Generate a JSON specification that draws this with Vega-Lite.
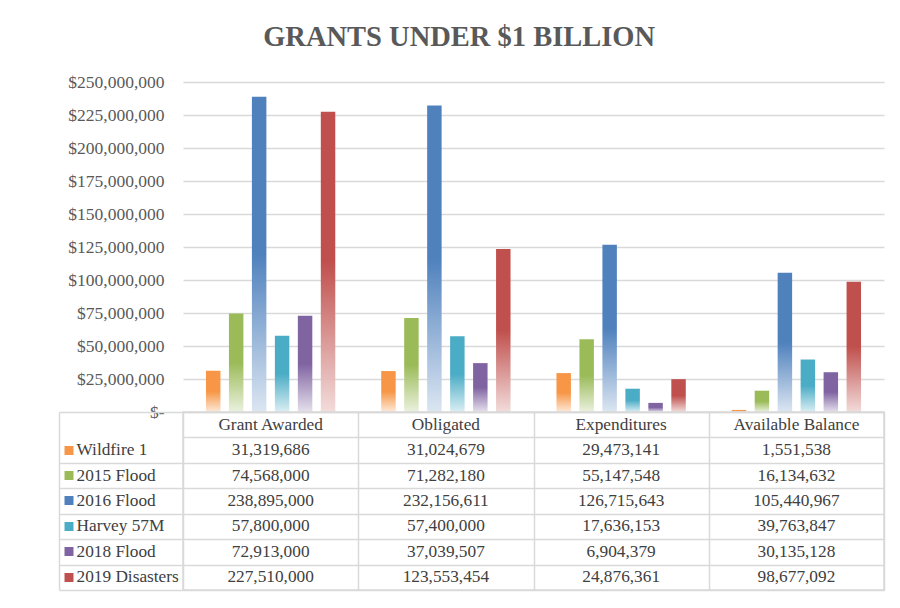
{
  "$schema": "https://vega.github.io/schema/vega-lite/v6.json",
  "background": "white",
  "padding": {"left": 57, "top": 22, "right": 10, "bottom": 10},
  "bounds": "flush",
  "spacing": 0,
  "title": {"text": "GRANTS UNDER $1 BILLION", "font": "Liberation Serif", "fontSize": 28.5, "fontWeight": "bold", "color": "#595959", "anchor": "middle", "dx": -12, "offset": 22},
  "datasets": {
    "grants": [
      {"category": "Grant Awarded", "series": "Wildfire 1", "value": 31319686},
      {"category": "Grant Awarded", "series": "2015 Flood", "value": 74568000},
      {"category": "Grant Awarded", "series": "2016 Flood", "value": 238895000},
      {"category": "Grant Awarded", "series": "Harvey 57M", "value": 57800000},
      {"category": "Grant Awarded", "series": "2018 Flood", "value": 72913000},
      {"category": "Grant Awarded", "series": "2019 Disasters", "value": 227510000},
      {"category": "Obligated", "series": "Wildfire 1", "value": 31024679},
      {"category": "Obligated", "series": "2015 Flood", "value": 71282180},
      {"category": "Obligated", "series": "2016 Flood", "value": 232156611},
      {"category": "Obligated", "series": "Harvey 57M", "value": 57400000},
      {"category": "Obligated", "series": "2018 Flood", "value": 37039507},
      {"category": "Obligated", "series": "2019 Disasters", "value": 123553454},
      {"category": "Expenditures", "series": "Wildfire 1", "value": 29473141},
      {"category": "Expenditures", "series": "2015 Flood", "value": 55147548},
      {"category": "Expenditures", "series": "2016 Flood", "value": 126715643},
      {"category": "Expenditures", "series": "Harvey 57M", "value": 17636153},
      {"category": "Expenditures", "series": "2018 Flood", "value": 6904379},
      {"category": "Expenditures", "series": "2019 Disasters", "value": 24876361},
      {"category": "Available Balance", "series": "Wildfire 1", "value": 1551538},
      {"category": "Available Balance", "series": "2015 Flood", "value": 16134632},
      {"category": "Available Balance", "series": "2016 Flood", "value": 105440967},
      {"category": "Available Balance", "series": "Harvey 57M", "value": 39763847},
      {"category": "Available Balance", "series": "2018 Flood", "value": 30135128},
      {"category": "Available Balance", "series": "2019 Disasters", "value": 98677092}
    ],
    "headers": [
      {"row": "_h", "category": "Grant Awarded"},
      {"row": "_h", "category": "Obligated"},
      {"row": "_h", "category": "Expenditures"},
      {"row": "_h", "category": "Available Balance"}
    ]
  },
  "vconcat": [
    {
      "width": 701,
      "height": 330,
      "view": {"stroke": null},
      "data": {"name": "grants"},
      "mark": {"type": "bar"},
      "encoding": {
        "x": {"field": "category", "type": "nominal", "sort": ["Grant Awarded", "Obligated", "Expenditures", "Available Balance"], "scale": {"domain": ["Grant Awarded", "Obligated", "Expenditures", "Available Balance"], "paddingInner": 0, "paddingOuter": 0}, "axis": null},
        "xOffset": {"field": "series", "type": "nominal", "scale": {"domain": ["Wildfire 1", "2015 Flood", "2016 Flood", "Harvey 57M", "2018 Flood", "2019 Disasters"], "paddingInner": 0.37, "paddingOuter": 1.0}},
        "y": {"field": "value", "type": "quantitative", "scale": {"domain": [0, 250000000], "nice": false},
          "axis": {"values": [0, 25000000, 50000000, 75000000, 100000000, 125000000, 150000000, 175000000, 200000000, 225000000, 250000000],
            "labelExpr": "datum.value == 0 ? '$-' : '$' + format(datum.value, ',')",
            "domain": false, "ticks": false, "labelPadding": 19, "title": null,
            "grid": true, "gridColor": "#d9d9d9", "gridWidth": 1.5,
            "labelFont": "Liberation Serif", "labelFontSize": 17.5, "labelColor": "#595959"}},
        "color": {
          "condition": [
            {"test": "datum.series === 'Wildfire 1'", "value": {"gradient": "linear", "x1": 0, "y1": 0, "x2": 0, "y2": 1, "stops": [{"offset": 0, "color": "#F79646"}, {"offset": 0.5, "color": "#F79646"}, {"offset": 1, "color": "#FDE9D9"}]}},
            {"test": "datum.series === '2015 Flood'", "value": {"gradient": "linear", "x1": 0, "y1": 0, "x2": 0, "y2": 1, "stops": [{"offset": 0, "color": "#9BBB59"}, {"offset": 0.5, "color": "#9BBB59"}, {"offset": 1, "color": "#EBF1DE"}]}},
            {"test": "datum.series === '2016 Flood'", "value": {"gradient": "linear", "x1": 0, "y1": 0, "x2": 0, "y2": 1, "stops": [{"offset": 0, "color": "#4F81BD"}, {"offset": 0.5, "color": "#4F81BD"}, {"offset": 1, "color": "#DCE6F2"}]}},
            {"test": "datum.series === 'Harvey 57M'", "value": {"gradient": "linear", "x1": 0, "y1": 0, "x2": 0, "y2": 1, "stops": [{"offset": 0, "color": "#4BACC6"}, {"offset": 0.5, "color": "#4BACC6"}, {"offset": 1, "color": "#DAEEF3"}]}},
            {"test": "datum.series === '2018 Flood'", "value": {"gradient": "linear", "x1": 0, "y1": 0, "x2": 0, "y2": 1, "stops": [{"offset": 0, "color": "#8064A2"}, {"offset": 0.5, "color": "#8064A2"}, {"offset": 1, "color": "#E5E0EC"}]}}
          ],
          "value": {"gradient": "linear", "x1": 0, "y1": 0, "x2": 0, "y2": 1, "stops": [{"offset": 0, "color": "#C0504D"}, {"offset": 0.5, "color": "#C0504D"}, {"offset": 1, "color": "#F2DCDB"}]}
        }
      }
    },
    {
      "width": 701,
      "height": 178,
      "view": {"stroke": "#d9d9d9", "strokeWidth": 1.5},
      "resolve": {"axis": {"y": "independent"}},
      "layer": [
        {
          "data": {"name": "grants"},
          "mark": {"type": "text", "font": "Liberation Serif", "fontSize": 17.3, "color": "#404040"},
          "encoding": {
            "x": {"field": "category", "type": "nominal", "sort": ["Grant Awarded", "Obligated", "Expenditures", "Available Balance"], "scale": {"domain": ["Grant Awarded", "Obligated", "Expenditures", "Available Balance"], "paddingInner": 0, "paddingOuter": 0},
              "axis": {"orient": "top", "grid": true, "tickBand": "extent", "labels": false, "ticks": false, "domain": false, "title": null, "gridColor": "#d9d9d9", "gridWidth": 1.5}},
            "y": {"field": "series", "type": "nominal", "scale": {"domain": ["_h", "Wildfire 1", "2015 Flood", "2016 Flood", "Harvey 57M", "2018 Flood", "2019 Disasters"], "paddingInner": 0, "paddingOuter": 0},
              "axis": {"orient": "left", "offset": 110, "domain": false, "grid": false, "ticks": true, "tickSize": 9, "tickWidth": 9,
                "tickColor": {"condition": [
                  {"test": "datum.value === 'Wildfire 1'", "value": "#F79646"},
                  {"test": "datum.value === '2015 Flood'", "value": "#9BBB59"},
                  {"test": "datum.value === '2016 Flood'", "value": "#4F81BD"},
                  {"test": "datum.value === 'Harvey 57M'", "value": "#4BACC6"},
                  {"test": "datum.value === '2018 Flood'", "value": "#8064A2"},
                  {"test": "datum.value === '2019 Disasters'", "value": "#C0504D"}
                ], "value": "transparent"},
                "labelAlign": "left", "labelPadding": -12, "labelExpr": "datum.value == '_h' ? '' : datum.value",
                "labelFont": "Liberation Serif", "labelFontSize": 17.3, "labelColor": "#404040", "title": null}},
            "text": {"field": "value", "type": "quantitative", "format": ","}
          }
        },
        {
          "data": {"name": "headers"},
          "mark": {"type": "text", "font": "Liberation Serif", "fontSize": 17.3, "color": "#404040"},
          "encoding": {
            "x": {"field": "category", "type": "nominal", "sort": ["Grant Awarded", "Obligated", "Expenditures", "Available Balance"], "scale": {"domain": ["Grant Awarded", "Obligated", "Expenditures", "Available Balance"], "paddingInner": 0, "paddingOuter": 0},
              "axis": {"orient": "top", "grid": true, "tickBand": "extent", "labels": false, "ticks": false, "domain": false, "title": null, "gridColor": "#d9d9d9", "gridWidth": 1.5}},
            "y": {"field": "row", "type": "nominal", "scale": {"domain": ["_h", "Wildfire 1", "2015 Flood", "2016 Flood", "Harvey 57M", "2018 Flood", "2019 Disasters"], "paddingInner": 0, "paddingOuter": 0},
              "axis": {"orient": "left", "offset": 124, "tickBand": "extent", "ticks": true, "tickSize": -124, "tickWidth": 1.5,
                "tickColor": {"condition": {"test": "datum.value === '_h' && datum.index === 0", "value": "transparent"}, "value": "#d9d9d9"},
                "labels": false, "domain": true, "domainColor": "#d9d9d9", "domainWidth": 1.5,
                "grid": true, "gridColor": "#d9d9d9", "gridWidth": 1.5, "title": null}},
            "text": {"field": "category", "type": "nominal"}
          }
        }
      ]
    }
  ],
  "config": {"font": "Liberation Serif"}
}
